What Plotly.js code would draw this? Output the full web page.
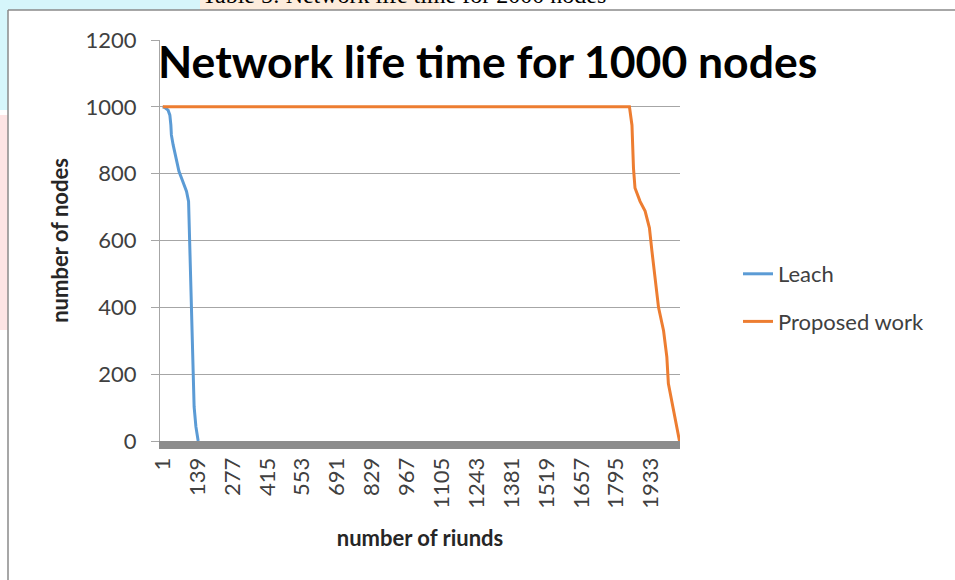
<!DOCTYPE html>
<html>
<head>
<meta charset="utf-8">
<script src="https://cdn.plot.ly/plotly-3.0.1.min.js"></script>
<style>html,body{margin:0;padding:0;background:#fff;}#chart{width:955px;height:580px;}</style>
</head>
<body>
<div id="chart"></div>
<script>
// ---- data ----
const leachRounds = [1, 9, 22, 29, 33, 35, 42, 55, 65, 75, 88, 95, 103, 108, 112, 116, 121, 125, 132, 141];
const leachNodes  = [1000, 998, 990, 975, 945, 916, 886, 846, 807, 787, 762, 747, 717, 568, 449, 340, 202, 102, 43, 0];

const propRounds = [1, 1847, 1857, 1863, 1869, 1889, 1909, 1926, 1936, 1949, 1962, 1982, 1995, 2001, 2011, 2028, 2045];
const propNodes  = [1000, 1000, 945, 816, 757, 717, 688, 638, 568, 479, 400, 330, 251, 172, 132, 72, 0];

const xTickVals = [1, 139, 277, 415, 553, 691, 829, 967, 1105, 1243, 1381, 1519, 1657, 1795, 1933];
const xTickText = xTickVals.map(String);
const seriesNames = ['Leach', 'Proposed work'];

// ---- layout helpers (pixel -> paper) ----
const L = 160, R = 680, T = 40, B = 441;
const px = x => (x - L) / (R - L);
const py = y => (B - y) / (B - T);

const FONT = 'Lato, "Open Sans", sans-serif';
const traces = [
  {x: leachRounds, y: leachNodes, name: seriesNames[0], type: 'scatter', mode: 'lines',
   line: {color: '#5B9BD5', width: 3}, legendgroup: 'a'},
  {x: propRounds, y: propNodes, name: seriesNames[1], type: 'scatter', mode: 'lines',
   line: {color: '#ED7D31', width: 3}, legendgroup: 'b'}
];

const layout = {
  width: 955, height: 580,
  margin: {l: L, r: 955 - R, t: T, b: 580 - B, pad: 0},
  paper_bgcolor: '#fff', plot_bgcolor: '#fff',
  font: {family: FONT, color: '#404040', size: 22},
  title: {text: '<b>Network life time for 1000 nodes</b>', font: {family: FONT, size: 44.5, color: '#000'},
          xref: 'container', x: 158 / 955, xanchor: 'left', yref: 'container', y: 1 - 62 / 580, yanchor: 'middle'},
  xaxis: {type: 'linear', range: [-10, 2047], tickmode: 'array', tickvals: xTickVals, ticktext: xTickText,
          tickangle: -90, showgrid: false, zeroline: false, showline: true, linecolor: '#8c8c8c', linewidth: 8,
          ticks: '', tickfont: {family: FONT, size: 22, color: '#404040'}, automargin: false,
          title: {text: '<b>number of riunds</b>', font: {family: FONT, size: 22, color: '#262626'}, standoff: 26}},
  yaxis: {range: [0, 1200], dtick: 200, showgrid: true, gridcolor: '#a6a6a6', gridwidth: 1, zeroline: false,
          showline: true, linecolor: '#a6a6a6', linewidth: 1, ticks: 'outside', ticklen: 8, tickcolor: '#a6a6a6',
          tickfont: {family: FONT, size: 22, color: '#404040'}, automargin: false, ticklabelstandoff: 10,
          title: {text: '<b>number of nodes</b>', font: {family: FONT, size: 22, color: '#262626'}, standoff: 10}},
  showlegend: true,
  legend: {x: px(738), xanchor: 'left', y: py(253), yanchor: 'top', bgcolor: 'rgba(0,0,0,0)',
           font: {family: FONT, size: 22, color: '#404040'}, tracegroupgap: 16, traceorder: 'grouped'},
  shapes: [
    // page decorations around the chart frame
    {type: 'rect', xref: 'paper', yref: 'paper', x0: px(0), x1: px(200), y0: py(0), y1: py(10), fillcolor: '#d6f6fb', line: {width: 0}, layer: 'below'},
    {type: 'rect', xref: 'paper', yref: 'paper', x0: px(200), x1: px(440), y0: py(0), y1: py(10), fillcolor: '#fdecdc', line: {width: 0}, layer: 'below'},
    {type: 'rect', xref: 'paper', yref: 'paper', x0: px(0), x1: px(8), y0: py(10), y1: py(110), fillcolor: '#d6f6fb', line: {width: 0}, layer: 'below'},
    {type: 'rect', xref: 'paper', yref: 'paper', x0: px(0), x1: px(8), y0: py(115), y1: py(330), fillcolor: '#fde4e4', line: {width: 0}, layer: 'below'},
    {type: 'line', xref: 'paper', yref: 'paper', x0: px(8), x1: px(955), y0: py(10), y1: py(10), line: {color: '#8a8a8a', width: 1.5}},
    {type: 'line', xref: 'paper', yref: 'paper', x0: px(8), x1: px(8), y0: py(10), y1: py(580), line: {color: '#8a8a8a', width: 1.5}}
  ],
  annotations: [
    {text: 'Table 5: Network life time for 2000 nodes', xref: 'paper', yref: 'paper', x: px(200), xanchor: 'left',
     y: py(10), yanchor: 'bottom', showarrow: false, font: {family: '"Liberation Serif", serif', size: 24, color: '#000'}}
  ]
};

Plotly.newPlot('chart', traces, layout, {displayModeBar: false, staticPlot: true});
</script>
</body>
</html>
